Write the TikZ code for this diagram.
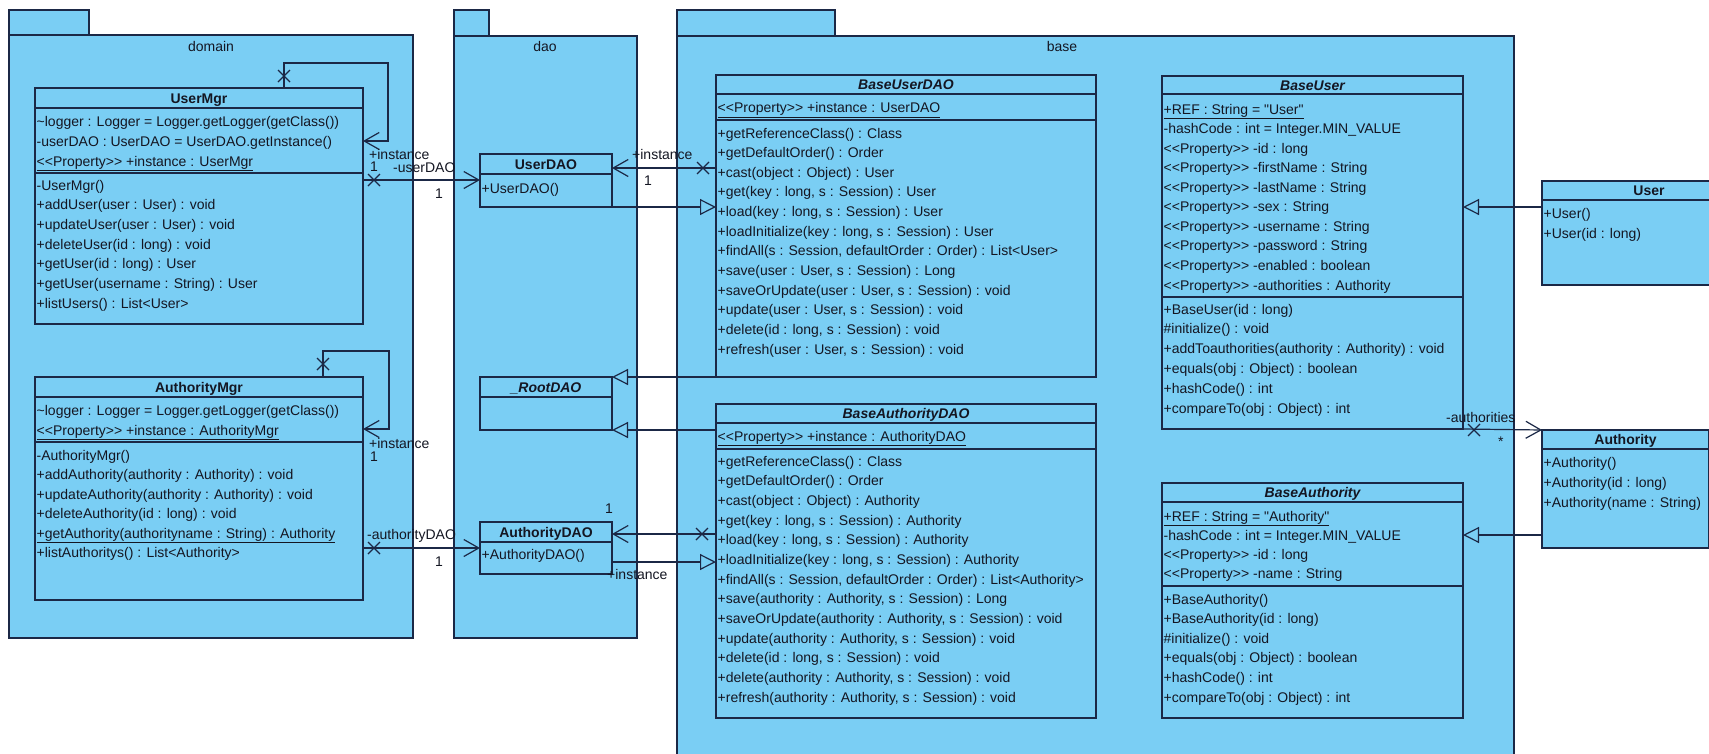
\documentclass[tikz,border=0pt]{standalone}
\usepackage{fontspec}
\setmainfont{Liberation Sans}[Ligatures=TeXOff]
\usetikzlibrary{arrows.meta,shapes.misc}
\definecolor{bg}{RGB}{122,206,244}
\definecolor{lc}{RGB}{27,40,70}
\definecolor{tc}{RGB}{20,22,34}
\newcommand\rowfont{\fontsize{14}{16}\selectfont}
\tikzset{
  pkgbox/.style={draw=lc, fill=bg, line width=1.2pt},
  clsbox/.style={draw=lc, fill=bg, line width=1.2pt, anchor=north west, inner sep=0pt, outer sep=0pt},
  divider/.style={draw=lc, line width=1.2pt},
  rowtext/.style={anchor=base west, inner sep=0pt, font=\rowfont, text=tc},
  titletext/.style={anchor=base, inner sep=0pt, font=\rowfont\bfseries, text=tc},
  abstitle/.style={anchor=base, inner sep=0pt, font=\rowfont\bfseries\itshape, text=tc},
  lbl/.style={anchor=base west, inner sep=0pt, font=\rowfont, text=tc},
  conn/.style={draw=lc, line width=1.2pt},
  nav/.style={conn, -{Straight Barb[length=15pt,width=17pt]}},
  gen/.style={conn, -{Triangle[length=16pt,width=16pt,fill=bg]}},
  xmark/.style={draw=lc, cross out, line width=1.2pt, minimum size=12pt, inner sep=0pt, outer sep=0pt},
}
% name, x, y, w, h
\newcommand\umlbox[5]{\node[clsbox, minimum width=#4pt, minimum height=#5pt] (#1) at (#2,#3) {};}
% name, y
\newcommand\umldiv[2]{\draw[divider] (#1.west |- 0,#2) -- (#1.east |- 0,#2);}
% prefix, x, first centre y, step, list
\newcommand\umlrows[5]{%
  \foreach \rowtxt [count=\i from 0] in {#5} {
    \node[rowtext] (#1-\i) at (#2, {#3+\i*#4+5}) {\rowtxt};
  }}
\begin{document}
\begin{tikzpicture}[x=1pt, y=-1pt]
\useasboundingbox (0,0) rectangle (1709,753);
\clip (0,0) rectangle (1709,753);
\fill[white] (0,0) rectangle (1709,753);

% ---------- packages ----------
\draw[pkgbox] (9,10) rectangle (89,35);
\draw[pkgbox] (9,35) rectangle (413,638);
\node[lbl, anchor=base] (pdomain) at (211,51) {domain};

\draw[pkgbox] (454,10) rectangle (489,36);
\draw[pkgbox] (454,36) rectangle (637,638);
\node[lbl, anchor=base] (pdao) at (545,51) {dao};

\draw[pkgbox] (677,10) rectangle (835,36);
\draw[pkgbox] (677,36) rectangle (1514,770);
\node[lbl, anchor=base] (pbase) at (1062,51) {base};

% ---------- UserMgr ----------
\umlbox{usermgr}{35}{88}{328}{236}
\umldiv{usermgr}{108}\umldiv{usermgr}{173}
\node[titletext] (usermgr-t) at (199,103) {UserMgr};
\umlrows{usermgr-a}{36.5}{121}{20}{{\textasciitilde logger : Logger = Logger.getLogger(getClass())},
  {-userDAO : UserDAO = UserDAO.getInstance()},
  {\underline{<<Property>> +instance : UserMgr}}}
\umlrows{usermgr-m}{36.5}{185}{19.7}{{-UserMgr()},{+addUser(user : User) : void},
  {+updateUser(user : User) : void},{+deleteUser(id : long) : void},
  {+getUser(id : long) : User},{+getUser(username : String) : User},{+listUsers() : List<User>}}

% ---------- AuthorityMgr ----------
\umlbox{authmgr}{35}{377}{328}{223}
\umldiv{authmgr}{397}\umldiv{authmgr}{442}
\node[titletext] (authmgr-t) at (199,392) {AuthorityMgr};
\umlrows{authmgr-a}{36.5}{410}{20}{{\textasciitilde logger : Logger = Logger.getLogger(getClass())},
  {\underline{<<Property>> +instance : AuthorityMgr}}}
\umlrows{authmgr-m}{36.5}{455}{19.5}{{-AuthorityMgr()},{+addAuthority(authority : Authority) : void},
  {+updateAuthority(authority : Authority) : void},{+deleteAuthority(id : long) : void},
  {\underline{+getAuthority(authorityname : String) : Authority}},{+listAuthoritys() : List<Authority>}}

% ---------- dao classes ----------
\umlbox{userdao}{480}{154}{132}{53}
\umldiv{userdao}{174}
\node[titletext] (userdao-t) at (546,169) {UserDAO};
\umlrows{userdao-m}{481.5}{188}{20}{{+UserDAO()}}

\umlbox{rootdao}{480}{377}{132}{53}
\umldiv{rootdao}{397}
\node[abstitle] (rootdao-t) at (546,392) {\_RootDAO};

\umlbox{authdao}{480}{522}{132}{52}
\umldiv{authdao}{542}
\node[titletext] (authdao-t) at (546,537) {AuthorityDAO};
\umlrows{authdao-m}{481.5}{554}{20}{{+AuthorityDAO()}}

% ---------- BaseUserDAO ----------
\umlbox{bud}{716}{75}{380}{302}
\umldiv{bud}{94}\umldiv{bud}{120}
\node[abstitle] (bud-t) at (906,89.5) {BaseUserDAO};
\umlrows{bud-a}{717.5}{107.5}{20}{{\underline{<<Property>> +instance : UserDAO}}}
\umlrows{bud-m}{717.5}{133}{19.64}{{+getReferenceClass() : Class},{+getDefaultOrder() : Order},
  {+cast(object : Object) : User},{+get(key : long, s : Session) : User},
  {+load(key : long, s : Session) : User},{+loadInitialize(key : long, s : Session) : User},
  {+findAll(s : Session, defaultOrder : Order) : List<User>},{+save(user : User, s : Session) : Long},
  {+saveOrUpdate(user : User, s : Session) : void},{+update(user : User, s : Session) : void},
  {+delete(id : long, s : Session) : void},{+refresh(user : User, s : Session) : void}}

% ---------- BaseAuthorityDAO ----------
\umlbox{bad}{716}{404}{380}{314}
\umldiv{bad}{423}\umldiv{bad}{449}
\node[abstitle] (bad-t) at (906,418.5) {BaseAuthorityDAO};
\umlrows{bad-a}{717.5}{436}{20}{{\underline{<<Property>> +instance : AuthorityDAO}}}
\umlrows{bad-m}{717.5}{461}{19.67}{{+getReferenceClass() : Class},{+getDefaultOrder() : Order},
  {+cast(object : Object) : Authority},{+get(key : long, s : Session) : Authority},
  {+load(key : long, s : Session) : Authority},{+loadInitialize(key : long, s : Session) : Authority},
  {+findAll(s : Session, defaultOrder : Order) : List<Authority>},
  {+save(authority : Authority, s : Session) : Long},
  {+saveOrUpdate(authority : Authority, s : Session) : void},
  {+update(authority : Authority, s : Session) : void},
  {+delete(id : long, s : Session) : void},
  {+delete(authority : Authority, s : Session) : void},
  {+refresh(authority : Authority, s : Session) : void}}

% ---------- BaseUser ----------
\umlbox{bu}{1162}{76}{301}{353}
\umldiv{bu}{94}\umldiv{bu}{297}
\node[abstitle] (bu-t) at (1312.5,90) {BaseUser};
\umlrows{bu-a}{1163.5}{109}{19.56}{{\underline{+REF : String = "User"}},
  {-hashCode : int = Integer.MIN\_VALUE},{<<Property>> -id : long},
  {<<Property>> -firstName : String},{<<Property>> -lastName : String},
  {<<Property>> -sex : String},{<<Property>> -username : String},
  {<<Property>> -password : String},{<<Property>> -enabled : boolean},
  {<<Property>> -authorities : Authority}}
\umlrows{bu-m}{1163.5}{309}{19.8}{{+BaseUser(id : long)},{\#initialize() : void},
  {+addToauthorities(authority : Authority) : void},{+equals(obj : Object) : boolean},
  {+hashCode() : int},{+compareTo(obj : Object) : int}}

% ---------- BaseAuthority ----------
\umlbox{ba}{1162}{483}{301}{235}
\umldiv{ba}{502}\umldiv{ba}{586}
\node[abstitle] (ba-t) at (1312.5,497.5) {BaseAuthority};
\umlrows{ba-a}{1163.5}{516}{19.33}{{\underline{+REF : String = "Authority"}},
  {-hashCode : int = Integer.MIN\_VALUE},{<<Property>> -id : long},{<<Property>> -name : String}}
\umlrows{ba-m}{1163.5}{599}{19.6}{{+BaseAuthority()},{+BaseAuthority(id : long)},
  {\#initialize() : void},{+equals(obj : Object) : boolean},{+hashCode() : int},
  {+compareTo(obj : Object) : int}}

% ---------- User / Authority ----------
\umlbox{user}{1542}{181}{214}{104}
\umldiv{user}{200}
\node[titletext] (user-t) at (1649,195.5) {User};
\umlrows{user-m}{1543.5}{213}{20}{{+User()},{+User(id : long)}}

\umlbox{auth}{1542}{430}{167}{118}
\umldiv{auth}{449}
\node[titletext] (auth-t) at (1625.5,444.5) {Authority};
\umlrows{auth-m}{1543.5}{462}{20}{{+Authority()},{+Authority(id : long)},{+Authority(name : String)}}

% ---------- connectors ----------
% UserMgr self association
\draw[nav] (usermgr.north -| 284,0) -- (284,63) -- (388,63) -- (388,141) -- (usermgr.east |- 0,141);
\node[xmark] (x1) at (284,76) {};
\node[lbl] (l1) at (369,159) {+instance};
\node[lbl] (l2) at (370,171) {1};
% UserMgr -> UserDAO
\draw[nav] (usermgr.east |- 0,180) -- (userdao.west |- 0,180);
\node[xmark] (x2) at (374,180) {};
\node[lbl] (l3) at (393,172) {-userDAO};
\node[lbl] (l4) at (435,198) {1};
% BaseUserDAO -> UserDAO
\draw[nav] (bud.west |- 0,168) -- (userdao.east |- 0,168);
\node[xmark] (x3) at (703,168) {};
\node[lbl] (l5) at (632,159) {+instance};
\node[lbl] (l6) at (644,185) {1};
% UserDAO -> BaseUserDAO generalization
\draw[gen] (userdao.south east) -- (bud.west |- userdao.south east);
% BaseUserDAO, BaseAuthorityDAO -> _RootDAO
\draw[gen] (bud.south west) -- (rootdao.north east);
\draw[gen] (bad.west |- rootdao.south east) -- (rootdao.south east);
% AuthorityMgr self association
\draw[nav] (authmgr.north -| 323,0) -- (323,351) -- (389,351) -- (389,429) -- (authmgr.east |- 0,429);
\node[xmark] (x4) at (323,364) {};
\node[lbl] (l7) at (369,448) {+instance};
\node[lbl] (l8) at (370,461) {1};
% AuthorityMgr -> AuthorityDAO
\draw[nav] (authmgr.east |- 0,548) -- (authdao.west |- 0,548);
\node[xmark] (x5) at (374,548) {};
\node[lbl] (l9) at (367,539) {-authorityDAO};
\node[lbl] (l10) at (435,566) {1};
% BaseAuthorityDAO -> AuthorityDAO
\draw[nav] (bad.west |- 0,534) -- (authdao.east |- 0,534);
\node[xmark] (x6) at (702,534) {};
\node[lbl] (l11) at (605,513) {1};
\node[lbl] (l12) at (607,579) {+instance};
% AuthorityDAO -> BaseAuthorityDAO generalization
\draw[gen] (authdao.east |- 0,562) -- (bad.west |- 0,562);
% User -> BaseUser
\draw[gen] (user.west |- 0,207) -- (bu.east |- 0,207);
% BaseUser -> Authority
\draw[nav] (bu.south east) -- (auth.north west);
\node[xmark] (x7) at (1474,430) {};
\node[lbl] (l13) at (1446,422) {-authorities};
\node[lbl] (l14) at (1498,446) {*};
% Authority -> BaseAuthority
\draw[gen] (auth.west |- 0,535) -- (ba.east |- 0,535);
\end{tikzpicture}
\end{document}
